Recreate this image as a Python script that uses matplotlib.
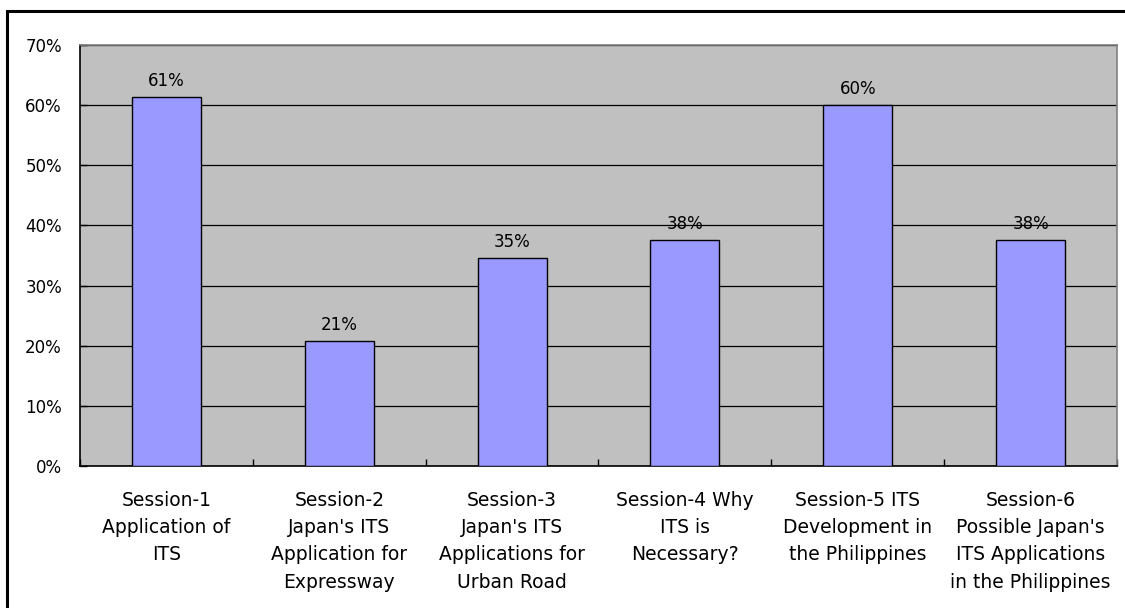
import numpy as np
import matplotlib
matplotlib.use("Agg")
import matplotlib.pyplot as plt
from matplotlib.patches import Rectangle
from matplotlib.ticker import FuncFormatter

plt.rcParams['font.family'] = ['DejaVu Sans']

## data
sessions = [
    "Session-1\nApplication of\nITS",
    "Session-2\nJapan's ITS\nApplication for\nExpressway",
    "Session-3\nJapan's ITS\nApplications for\nUrban Road",
    "Session-4 Why\nITS is\nNecessary?",
    "Session-5 ITS\nDevelopment in\nthe Philippines",
    "Session-6\nPossible Japan's\nITS Applications\nin the Philippines",
]
share = [0.614, 0.208, 0.346, 0.375, 0.600, 0.375]
y_ticks = [0.0, 0.1, 0.2, 0.3, 0.4, 0.5, 0.6, 0.7]

W, H = 1125, 608
fig = plt.figure(figsize=(W / 100, H / 100), dpi=100)
ax = fig.add_axes([80 / W, 1 - 466 / H, (1117 - 80) / W, (466 - 45) / H])

## outer chart border (only top and left are inside the frame)
fig.patches.append(Rectangle((7 / W, -0.05), 1.1, 1 - 11 / H + 0.05,
                             transform=fig.transFigure, fill=False,
                             edgecolor="black", linewidth=2.2, zorder=0))

x = np.arange(len(sessions))
ax.set_facecolor("#C0C0C0")
ax.set_axisbelow(True)
ax.yaxis.grid(True, color="black", linewidth=0.9)
ax.bar(x, share, width=0.4, color="#9999FF", edgecolor="black", linewidth=1.0, zorder=3)

for xi, v in zip(x, share):
    ax.text(xi, v + 0.012, "{:.0f}%".format(v * 100), ha="center", va="bottom",
            fontsize=12, zorder=4)

ax.set_xlim(-0.5, len(sessions) - 0.5)
ax.set_ylim(0, 0.7)
ax.set_yticks(y_ticks)
ax.yaxis.set_major_formatter(FuncFormatter(lambda v, p: "{:.0f}%".format(v * 100)))
ax.tick_params(axis="y", direction="in", length=5, width=1, pad=13, labelsize=12)

ax.set_xticks(x)
ax.set_xticklabels(sessions, fontsize=13.5, linespacing=1.55)
ax.set_xticks(np.arange(len(sessions) + 1) - 0.5, minor=True)
ax.tick_params(axis="x", which="major", length=0, pad=18)
ax.tick_params(axis="x", which="minor", direction="in", length=5, width=1)

for side in ("top", "right"):
    ax.spines[side].set_color("#808080")
    ax.spines[side].set_linewidth(1.2)
for side in ("left", "bottom"):
    ax.spines[side].set_color("black")
    ax.spines[side].set_linewidth(1.2)

fig.savefig("out.png", dpi=100, facecolor="white")
